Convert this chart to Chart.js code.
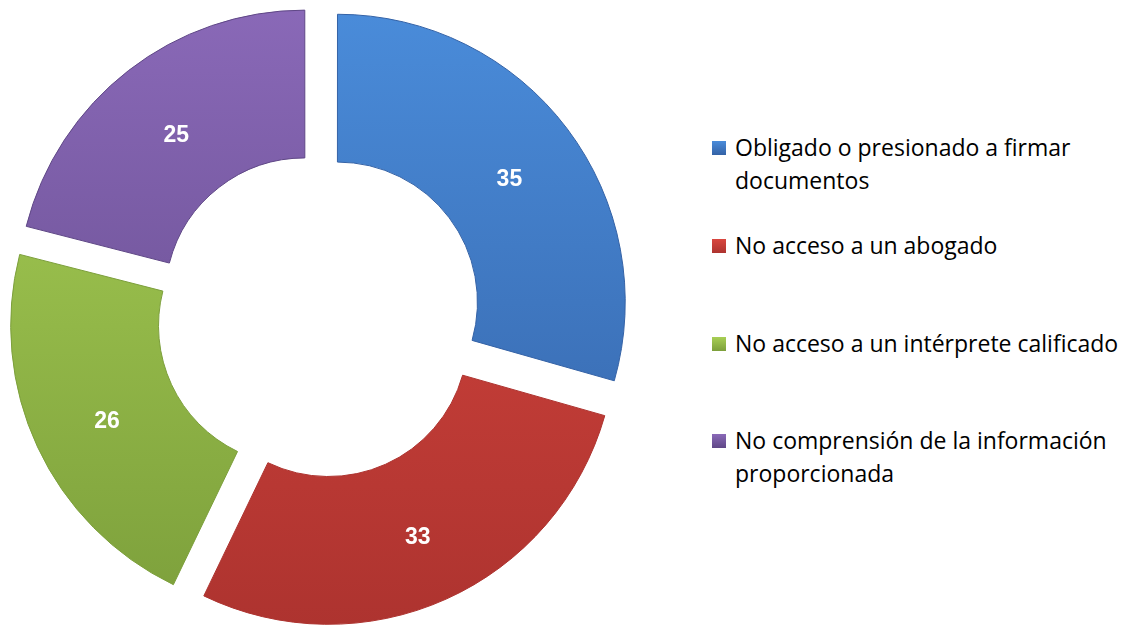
<!DOCTYPE html>
<html>
<head>
<meta charset="utf-8">
<script src="https://cdn.jsdelivr.net/npm/chart.js@4"></script>
<style>
  body { margin: 0; background: #fff; width: 1125px; height: 626px; overflow: hidden; position: relative; }
  #wrap { position: absolute; left: 0; top: 0; width: 660px; height: 626px; }
  #legend { position: absolute; left: 712px; top: 131px; width: 420px; font-family: "Open Sans", Lato, sans-serif; font-size: 23px; color: #000; }
  .item { position: absolute; padding-left: 23px; line-height: 33px; width: 395px; }
  .box { position: absolute; left: 0; top: 10px; width: 14px; height: 14px; }
</style>
</head>
<body>
<div id="wrap"><canvas id="chart"></canvas></div>
<div id="legend"></div>
<script>
const categorias = [
  "Obligado o presionado a firmar documentos",
  "No acceso a un abogado",
  "No acceso a un intérprete calificado",
  "No comprensión de la información proporcionada"
];
const valores = [35, 33, 26, 25];
const coloresClaros = ["#4a8cda", "#d9473f", "#a8cf55", "#8a69b8"];
const coloresOscuros = ["#3462a6", "#ad332f", "#7c9f3b", "#5f4786"];
const legendTops = [0, 98, 196, 293];

function gradiente(ctx) {
  const chart = ctx.chart;
  const area = chart.chartArea;
  if (!area) return coloresClaros[ctx.dataIndex];
  const g = chart.ctx.createLinearGradient(0, area.top, 0, area.bottom);
  g.addColorStop(0, coloresClaros[ctx.dataIndex]);
  g.addColorStop(1, coloresOscuros[ctx.dataIndex]);
  return g;
}

// numbers in the middle of each (exploded) segment
const etiquetas = {
  id: "etiquetas",
  afterDatasetsDraw(chart) {
    const c = chart.ctx;
    const meta = chart.getDatasetMeta(0);
    c.save();
    c.font = "bold 23px 'Liberation Sans', Arial, sans-serif";
    c.fillStyle = "#fff";
    c.textAlign = "center";
    c.textBaseline = "middle";
    meta.data.forEach((arc, i) => {
      const p = arc.getProps(["x", "y", "startAngle", "endAngle", "innerRadius", "outerRadius"], true);
      const off = (arc.options.offset || 0) / 4; // chart.js draws offset/4
      const a = (p.startAngle + p.endAngle) / 2;
      const r = (p.innerRadius + p.outerRadius) / 2 + off;
      c.fillText(String(valores[i]), p.x + Math.cos(a) * r + 2, p.y + Math.sin(a) * r + 6);
    });
    c.restore();
  }
};

const ctx = document.getElementById("chart").getContext("2d");
const chart = new Chart(ctx, {
  type: "doughnut",
  data: {
    labels: categorias,
    datasets: [{
      data: valores,
      backgroundColor: gradiente,
      borderColor: coloresOscuros,
      borderWidth: 1,
      offset: 92,
      hoverOffset: 0
    }]
  },
  options: {
    responsive: true,
    maintainAspectRatio: false,
    animation: false,
    radius: 287,
    cutout: "48.5%",
    layout: { padding: { left: 0, right: 22, top: 19, bottom: 13 } },
    plugins: {
      legend: { display: false },
      tooltip: { enabled: false }
    }
  },
  plugins: [etiquetas]
});

const legend = document.getElementById("legend");
categorias.forEach((nombre, i) => {
  const item = document.createElement("div");
  item.className = "item";
  item.style.top = legendTops[i] + "px";
  const box = document.createElement("span");
  box.className = "box";
  box.style.background = "linear-gradient(" + coloresClaros[i] + "," + coloresOscuros[i] + ")";
  item.appendChild(box);
  item.appendChild(document.createTextNode(nombre));
  legend.appendChild(item);
});
</script>
</body>
</html>
